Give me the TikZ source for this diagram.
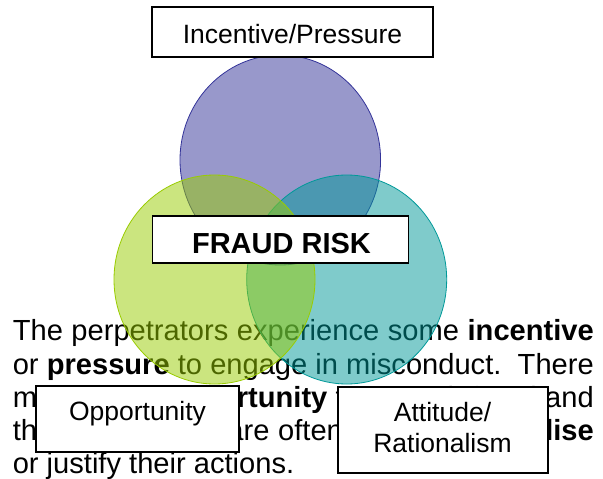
\documentclass[tikz,border=0pt]{standalone}
\usepackage{fontspec}
\setmainfont{Liberation Sans}
\definecolor{incblue}{HTML}{333399}
\definecolor{oppgreen}{HTML}{99CC00}
\definecolor{atteal}{HTML}{009999}
% one full-width justified line of the paragraph
\newcommand{\fullline}[1]{\makebox[581pt][s]{#1}}
\begin{document}
\begin{tikzpicture}[x=1pt,y=-1pt,
  para/.style={anchor=base west,inner sep=0pt,font=\fontsize{29.1}{33}\selectfont},
  boxlabel/.style={anchor=base,inner sep=0pt,font=\fontsize{26.5}{31}\selectfont},
  framebox/.style={draw=black,line width=1.4pt,fill=white,inner sep=0pt},
  disc/.style={line width=0.8pt,fill opacity=0.5}]
\fill[white] (0,0) rectangle (603,479);
\useasboundingbox (0,0) rectangle (603,479);

% explanatory paragraph, justified line by line
\node[para] (p1) at (12.6,340.8) {\fullline{The perpetrators experience some \textbf{incentive}}};
\node[para] (p2) at (12.6,374.0) {\fullline{or \textbf{pressure} to engage in misconduct.\ \ There}};
\node[para] (p3) at (12.6,407.2) {\fullline{must be an \textbf{opportunity} to commit fraud and}};
\node[para] (p4) at (12.6,440.4) {\fullline{the perpetrators are often able to \textbf{rationalise}}};
\node[para] (p5) at (12.6,473.6) {or justify their actions.};

% the three overlapping discs of the fraud triangle
\draw[disc,draw=incblue,fill=incblue] (280.3,160) ellipse [x radius=100.3pt, y radius=105pt];
\draw[disc,draw=atteal,fill=atteal] (346.7,279.5) ellipse [x radius=100pt, y radius=104.5pt];
\draw[disc,draw=oppgreen,fill=oppgreen] (214.5,279.5) ellipse [x radius=100.5pt, y radius=104.5pt];

% labelled boxes
\node[framebox,minimum width=281pt,minimum height=50pt] (incbox) at (292.5,32) {};
\node[boxlabel] (inctext) at (292.5,43.3) {Incentive/Pressure};

\node[framebox,minimum width=256pt,minimum height=47pt] (riskbox) at (280.5,239.5) {};
\node[boxlabel,font=\fontsize{29}{31}\selectfont\bfseries] (risktext) at (281.5,253.3) {FRAUD RISK};

\node[framebox,minimum width=203pt,minimum height=66pt] (oppbox) at (137.5,419) {};
\node[boxlabel] (opptext) at (137.5,420) {Opportunity};

\node[framebox,minimum width=210pt,minimum height=86pt] (attbox) at (443,430) {};
\node[boxlabel] (atttext1) at (442.5,421.7) {Attitude/};
\node[boxlabel] (atttext2) at (442.5,452) {Rationalism};
\end{tikzpicture}
\end{document}
